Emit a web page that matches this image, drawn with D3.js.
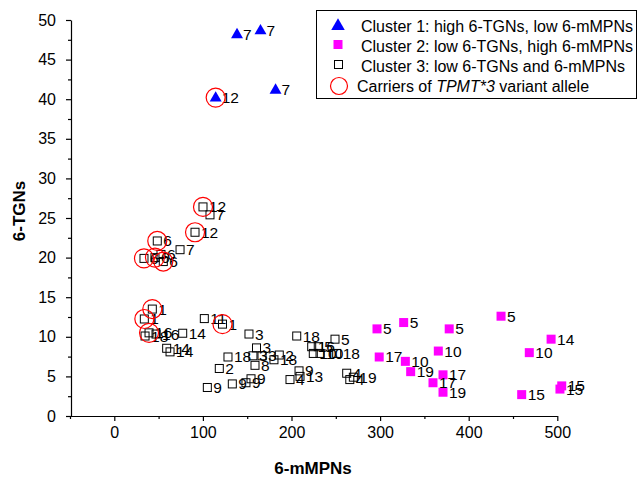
<!DOCTYPE html>
<html>
<head>
<meta charset="utf-8">
<script src="https://cdn.jsdelivr.net/npm/d3@7"></script>
<style>
  body { margin: 0; background: #fff; }
  svg text { font-family: "Liberation Sans", Arial, Helvetica, sans-serif; }
</style>
</head>
<body>
<svg id="chart" width="639" height="478"></svg>
<script>
// cluster 1: high 6-TGNs, low 6-mMPNs
var c1x = [138.5, 165, 182, 114.4];
var c1y = [48.2, 48.7, 41.2, 40.2];
var c1lab = ["7", "7", "7", "12"];
var c1tpmt = [0, 0, 0, 1];

// cluster 2: low 6-TGNs, high 6-mMPNs
var c2x = [296.5, 326.6, 378, 436.5, 493, 468.4, 299, 328.5, 365.7, 334.5, 371, 359.7, 371, 459.8, 503, 505];
var c2y = [11.0, 11.8, 11.0, 12.6, 9.7, 8.0, 7.45, 6.9, 8.2, 5.6, 5.2, 4.2, 3.0, 2.7, 3.4, 3.8];
var c2lab = ["5", "5", "5", "5", "14", "10", "17", "10", "10", "19", "17", "17", "19", "15", "15", "15"];

// cluster 3: low 6-TGNs and 6-mMPNs
var c3x = [100.1, 108.0, 91.1, 48.5, 74.2, 52.7, 33.5, 45.9, 55.3, 42.9, 33.9, 39.2, 34.7, 47.1, 101.6,
           122.1, 77.2, 59.1, 62.9, 152.0, 160.5, 156.5, 166.7, 158.8, 128.3, 186.2, 180.2, 118.5, 105.0,
           133.2, 148.6, 154.3, 205.9, 249.1, 222.8, 230.2, 224.6, 232.2, 251.0, 208.5, 198.3, 209.6,
           262.3, 269.8, 265.8];
var c3y = [26.4, 25.4, 23.2, 22.1, 21.0, 20.4, 19.9, 20.0, 19.5, 13.5, 12.25, 10.5, 10.1, 10.35, 12.3,
           11.6, 10.45, 8.55, 8.1, 10.35, 8.6, 7.6, 7.6, 6.4, 7.45, 7.7, 7.1, 6.0, 3.6,
           4.05, 4.2, 4.7, 10.1, 9.7, 8.75, 8.75, 7.9, 7.9, 7.9, 5.7, 4.6, 5.0,
           5.4, 4.9, 4.6];
var c3lab = ["12", "7", "12", "6", "7", "6", "6", "6", "6", "1", "1", "16", "18", "16", "11",
             "1", "14", "14", "14", "3", "3", "3", "3", "8", "18", "2", "18", "2", "9",
             "9", "9", "9", "18", "5", "16", "5", "10", "10", "18", "9", "4", "13",
             "4", "19", "4"];
var c3tpmt = [1, 0, 1, 1, 0, 0, 1, 1, 1, 1, 1, 1, 0, 0, 0,
              1, 0, 0, 0, 0, 0, 0, 0, 0, 0, 0, 0, 0, 0,
              0, 0, 0, 0, 0, 0, 0, 0, 0, 0, 0, 0, 0,
              0, 0, 0];

var xMajor = [0, 100, 200, 300, 400, 500];
var xMinor = [-50, 50, 150, 250, 350, 450];
var yMajor = [0, 5, 10, 15, 20, 25, 30, 35, 40, 45, 50];
var yMinor = [2.5, 7.5, 12.5, 17.5, 22.5, 27.5, 32.5, 37.5, 42.5, 47.5];

var legendText = ["Cluster 1: high 6-TGNs, low 6-mMPNs", "Cluster 2: low 6-TGNs, high 6-mMPNs",
                  "Cluster 3: low 6-TGNs and 6-mMPNs"];

function rows(xs, ys, labs, flags) {
  return xs.map(function(v, i) {
    return {x: v, y: ys[i], lab: labs[i], tpmt: flags ? flags[i] : 0};
  });
}
var d1 = rows(c1x, c1y, c1lab, c1tpmt);
var d2 = rows(c2x, c2y, c2lab, null);
var d3pts = rows(c3x, c3y, c3lab, c3tpmt);

var svg = d3.select("#chart");
var x = d3.scaleLinear().domain([-50, 500]).range([70, 557.3]);
var y = d3.scaleLinear().domain([0, 50]).range([416, 20]);

// axes
var gx = svg.append("g").attr("transform", "translate(0,416)");
gx.call(d3.axisBottom(x).tickValues(xMajor).tickSize(5).tickSizeOuter(0).tickPadding(6));
var gxm = svg.append("g").attr("transform", "translate(0,416)");
gxm.call(d3.axisBottom(x).tickValues(xMinor).tickSize(3).tickSizeOuter(0).tickFormat(""));
gxm.select(".domain").remove();

var gy = svg.append("g").attr("transform", "translate(71,0)");
gy.call(d3.axisLeft(y).tickValues(yMajor).tickSize(5).tickSizeOuter(0).tickPadding(10));
var gym = svg.append("g").attr("transform", "translate(71,0)");
gym.call(d3.axisLeft(y).tickValues(yMinor).tickSize(3).tickSizeOuter(0).tickFormat(""));
gym.select(".domain").remove();

svg.selectAll(".domain, .tick line").attr("stroke", "#000").attr("stroke-width", 1.2);
svg.selectAll(".tick text").style("font-size", "16px").attr("fill", "#000")
  .style("font-family", '"Liberation Sans", Arial, sans-serif');

svg.append("text").attr("x", 313).attr("y", 474).attr("text-anchor", "middle")
  .style("font-size", "17px").style("font-weight", "bold").text("6-mMPNs");
svg.append("text").attr("transform", "translate(25,211) rotate(-90)").attr("text-anchor", "middle")
  .style("font-size", "17px").style("font-weight", "bold").text("6-TGNs");

var tri = d3.symbol().type(d3.symbolTriangle).size(62);

// cluster 3 open squares
svg.append("g").selectAll("rect").data(d3pts).enter().append("rect")
  .attr("x", function(d) { return x(d.x) - 4; })
  .attr("y", function(d) { return y(d.y) - 4; })
  .attr("width", 8).attr("height", 8)
  .attr("fill", "none").attr("stroke", "#000").attr("stroke-width", 1);

// cluster 2 magenta squares
svg.append("g").selectAll("rect").data(d2).enter().append("rect")
  .attr("x", function(d) { return x(d.x) - 4.5; })
  .attr("y", function(d) { return y(d.y) - 4.5; })
  .attr("width", 9).attr("height", 9)
  .attr("fill", "#ff00ff");

// cluster 1 blue triangles
svg.append("g").selectAll("path").data(d1).enter().append("path")
  .attr("d", tri)
  .attr("transform", function(d) { return "translate(" + x(d.x) + "," + (y(d.y) + 0.5) + ")"; })
  .attr("fill", "#0000ff");

// point labels
var all = d1.concat(d2, d3pts);
svg.append("g").selectAll("text").data(all).enter().append("text")
  .attr("x", function(d) { return x(d.x) + 6; })
  .attr("y", function(d) { return y(d.y) + 5.5; })
  .style("font-size", "15.5px").attr("fill", "#000")
  .text(function(d) { return d.lab; });

// TPMT*3 carriers
var carriers = all.filter(function(d) { return d.tpmt; });
svg.append("g").selectAll("circle").data(carriers).enter().append("circle")
  .attr("cx", function(d) { return x(d.x); })
  .attr("cy", function(d) { return y(d.y); })
  .attr("r", 9.5)
  .attr("fill", "none").attr("stroke", "#ff0000").attr("stroke-width", 1.2);

// legend
var lg = svg.append("g");
lg.append("rect").attr("x", 316.5).attr("y", 10.5).attr("width", 320).attr("height", 88)
  .attr("fill", "#fff").attr("stroke", "#000").attr("stroke-width", 1);
lg.append("path").attr("d", d3.symbol().type(d3.symbolTriangle).size(80))
  .attr("transform", "translate(338,26)").attr("fill", "#0000ff");
lg.append("rect").attr("x", 333.5).attr("y", 40).attr("width", 9).attr("height", 9).attr("fill", "#ff00ff");
lg.append("rect").attr("x", 334.5).attr("y", 60.5).attr("width", 8).attr("height", 8)
  .attr("fill", "none").attr("stroke", "#000");
lg.append("circle").attr("cx", 339).attr("cy", 86).attr("r", 8.5)
  .attr("fill", "none").attr("stroke", "#ff0000").attr("stroke-width", 1.2);
var ly = [32.3, 52.3, 72.3];
legendText.forEach(function(t, i) {
  lg.append("text").attr("x", 361).attr("y", ly[i]).style("font-size", "16px").text(t);
});
var lt = lg.append("text").attr("x", 357).attr("y", 91.7).style("font-size", "16px");
lt.append("tspan").text("Carriers of ");
lt.append("tspan").style("font-style", "italic").text("TPMT*3");
lt.append("tspan").text(" variant allele");
</script>
</body>
</html>
